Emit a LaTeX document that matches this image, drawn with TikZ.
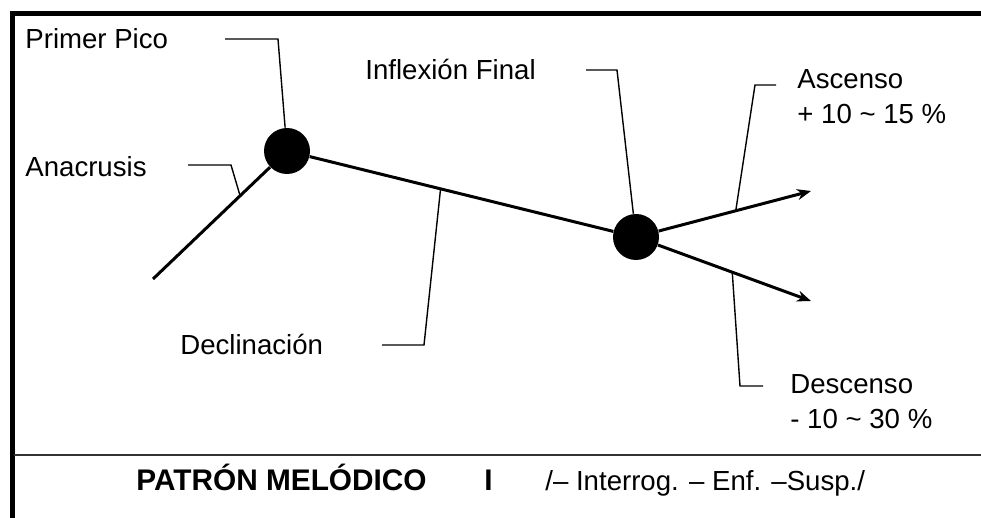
\documentclass[tikz,border=0pt]{standalone}
\usepackage{fontspec}
\setmainfont{Liberation Sans}
\usepackage{tikz}
\usetikzlibrary{arrows.meta, calc, positioning}
\tikzstyle{txt} = [font=\fontsize{13.8}{17.5}\selectfont, anchor=base west, inner sep=0pt]
\tikzstyle{txttwo} = [font=\fontsize{13.8}{17.5}\selectfont, anchor=west, inner sep=0pt, align=left]
\tikzstyle{heading} = [font=\fontsize{14.9}{17.5}\selectfont\bfseries, anchor=base west, inner sep=0pt]
\tikzstyle{dot} = [circle, fill=black, minimum size=23pt, inner sep=0pt]
\tikzstyle{curve} = [line width=1.5pt]
\tikzstyle{arrow} = [line width=1.5pt,->,>={Stealth[length=7pt,width=5.5pt]}]
\tikzstyle{leader} = [line width=0.7pt]
\tikzstyle{boxline} = [line width=2.5pt]

\begin{document}
\begin{tikzpicture}[x=0.5pt, y=-0.5pt]
	\useasboundingbox (0,0) rectangle (981,518);
	
	% frame
	\draw [boxline] (12,518) -- (12,14) -- (981,14);
	\draw [line width=1pt, black!80] (14,455) -- (981,455);
	
	% melodic contour
	\coordinate (start) at (153,279);
	\node (dotPeak) [dot] at (287,151) {};
	\node (dotFinal) [dot] at (636,237) {};
	\coordinate (endUp) at (811,191);
	\coordinate (endDown) at (811,301);
	
	\draw [curve] (start) -- (dotPeak);
	\draw [curve] (dotPeak) -- (dotFinal);
	\draw [arrow] (dotFinal) -- (endUp);
	\draw [arrow] (dotFinal) -- (endDown);
	
	\coordinate (tipAna) at ($(start)!0.65!(dotPeak)$);
	\coordinate (tipDecl) at ($(dotPeak)!0.44!(dotFinal)$);
	\coordinate (tipUp) at ($(dotFinal)!0.57!(endUp)$);
	\coordinate (tipDown) at ($(dotFinal)!0.55!(endDown)$);
	
	% labels
	\node (txtPico) [txt] at (25,49) {Primer Pico};
	\node (txtAna) [txt] at (25,177) {Anacrusis};
	\node (txtInfl) [txt] at (365,80) {Inflexión Final};
	\node (txtDecl) [txt] at (180,355) {Declinación};
	\node (txtAsc) [txttwo] at (797,97) {Ascenso\\+ 10 \textasciitilde{} 15 \%};
	\node (txtDesc) [txttwo] at (790,402) {Descenso\\- 10 \textasciitilde{} 30 \%};
	
	\node (txtPatron) [heading] at (136,491) {PATRÓN MELÓDICO};
	\node (txtRoman) [heading] at (484,491) {I};
	\node (txtTypes) [txt] at (545,491) {/– Interrog. – Enf. –Susp./};
	
	% leaders
	\coordinate (picoA) at (225,39);
	\coordinate (picoB) at (278,39);
	\coordinate (anaA) at (188,165);
	\coordinate (anaB) at (231,165);
	\coordinate (inflA) at (586,70);
	\coordinate (inflB) at (617,70);
	\coordinate (declA) at (382,345);
	\coordinate (declB) at (424,345);
	\coordinate (ascA) at (776,85);
	\coordinate (ascB) at (755,85);
	\coordinate (descA) at (763,386);
	\coordinate (descB) at (740,386);
	
	\draw [leader] (picoA) -- (picoB) -- (dotPeak);
	\draw [leader] (anaA) -- (anaB) -- (tipAna);
	\draw [leader] (inflA) -- (inflB) -- (dotFinal);
	\draw [leader] (tipDecl) -- (declB) -- (declA);
	\draw [leader] (tipUp) -- (ascB) -- (ascA);
	\draw [leader] (tipDown) -- (descB) -- (descA);
\end{tikzpicture}
\end{document}
